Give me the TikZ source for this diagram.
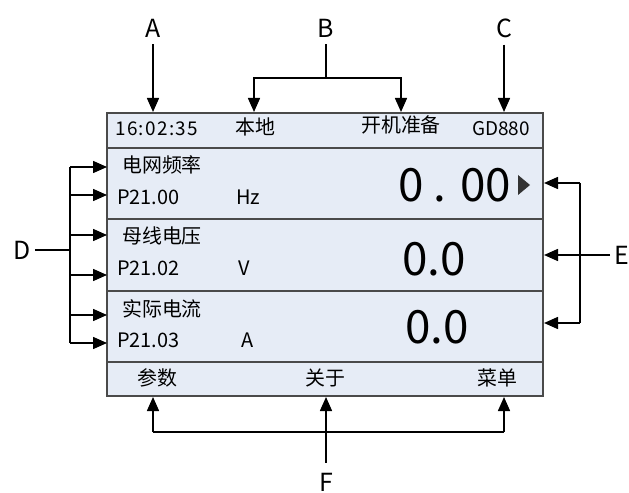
\documentclass[tikz,border=0pt]{standalone}
\usepackage{fontspec}
\setmainfont{Noto Sans CJK SC}
\usetikzlibrary{arrows.meta}
\definecolor{panelfill}{HTML}{E6ECF6}
\definecolor{panelborder}{HTML}{4A4A4A}
\definecolor{marker}{HTML}{333333}
\tikzset{
  txt/.style={inner sep=0pt, anchor=base west, font=\fontsize{20}{20}\selectfont},
  stxt/.style={inner sep=0pt, anchor=base west, font=\fontsize{19}{19}\selectfont},
  big/.style={inner sep=0pt, anchor=base west, font=\fontsize{46}{46}\selectfont},
  lbl/.style={inner sep=0pt, font=\fontsize{25}{25}\selectfont},
  arr/.style={-{Triangle[length=14bp,width=12bp]}, line width=1.5bp},
  ln/.style={line width=1.5bp},
  panel/.style={fill=panelfill, draw=panelborder, line width=1.2bp}
}
\begin{document}
\begin{tikzpicture}[x=1bp,y=-1bp]
\useasboundingbox (0,0) rectangle (629,493);
% panel
\path[panel] (107,113) rectangle (543,396);
\foreach \yy in {148,219,291,362} \draw[panelborder,line width=1.2bp] (107,\yy) -- (543,\yy);
% status bar
\node[stxt] (time) at (115,136) {\addfontfeature{LetterSpace=7}16:02:35};
\node[txt] (local) at (235,135) {本地};
\node[txt] (ready) at (361,133) {开机准备};
\node[stxt] (model) at (472,136) {GD880};
% row 1
\node[txt] (n1) at (122,173) {电网频率};
\node[txt] (p1) at (117,205) {P21.00};
\node[txt] (u1) at (236,205) {Hz};
\node[big] (v1) at (398,202) {0 . 00};
\fill[marker] (518,175) -- (530,185) -- (518,195) -- cycle;
% row 2
\node[txt] (n2) at (122,244) {母线电压};
\node[txt] (p2) at (117,275) {P21.02};
\node[txt] (u2) at (238,275) {V};
\node[big] (v2) at (402,275) {0.0};
% row 3
\node[txt] (n3) at (122,316) {实际电流};
\node[txt] (p3) at (117,347) {P21.03};
\node[txt] (u3) at (241,347) {A};
\node[big] (v3) at (405,343) {0.0};
% bottom bar
\node[txt] (k1) at (137,385) {参数};
\node[txt] (k2) at (305,385) {关于};
\node[txt] (k3) at (477,385) {菜单};
% labels
\node[lbl] (A) at (153,28) {A};
\node[lbl] (B) at (326,28) {B};
\node[lbl] (C) at (504,28) {C};
\node[lbl] (D) at (22,250) {D};
\node[lbl,anchor=west] (E) at (614,255) {E};
\node[lbl] (F) at (326,482) {F};
% targets top
\coordinate (ta) at (153,112);
\coordinate (tb1) at (254,112);
\coordinate (tb2) at (401,112);
\coordinate (tc) at (504,112);
\coordinate (bj) at (326,78);
\draw[arr,shorten <=7bp] (A) -- (ta);
\draw[ln,shorten <=7bp] (B) -- (bj);
\draw[arr] (bj) -| (tb1);
\draw[arr] (bj) -| (tb2);
\draw[arr,shorten <=7bp] (C) -- (tc);
% D
\coordinate (dj) at (70,250);
\coordinate (d1) at (107,167);
\coordinate (d2) at (107,195);
\coordinate (d3) at (107,235);
\coordinate (d4) at (107,275);
\coordinate (d5) at (107,315);
\coordinate (d6) at (107,343);
\draw[ln] (D.east) ++(4,0) -- (dj);
\draw[ln] (dj |- d1) -- (dj |- d6);
\foreach \t in {d1,d2,d3,d4,d5,d6} \draw[arr] (dj |- \t) -- (\t);
% E
\coordinate (ej) at (580,255);
\coordinate (e1) at (544,183);
\coordinate (e2) at (544,255);
\coordinate (e3) at (544,323);
\draw[arr] (E.west) ++(-4,0) -- (e2);
\draw[ln] (ej |- e1) -- (ej |- e3);
\draw[arr] (ej |- e1) -- (e1);
\draw[arr] (ej |- e3) -- (e3);
% F
\coordinate (fj) at (326,432);
\coordinate (f1) at (153,397);
\coordinate (f2) at (326,397);
\coordinate (f3) at (504,397);
\draw[arr,shorten <=10bp] (F) -- (f2);
\draw[ln] (fj -| f1) -- (fj -| f3);
\draw[arr] (fj -| f1) -- (f1);
\draw[arr] (fj -| f3) -- (f3);
\end{tikzpicture}
\end{document}
